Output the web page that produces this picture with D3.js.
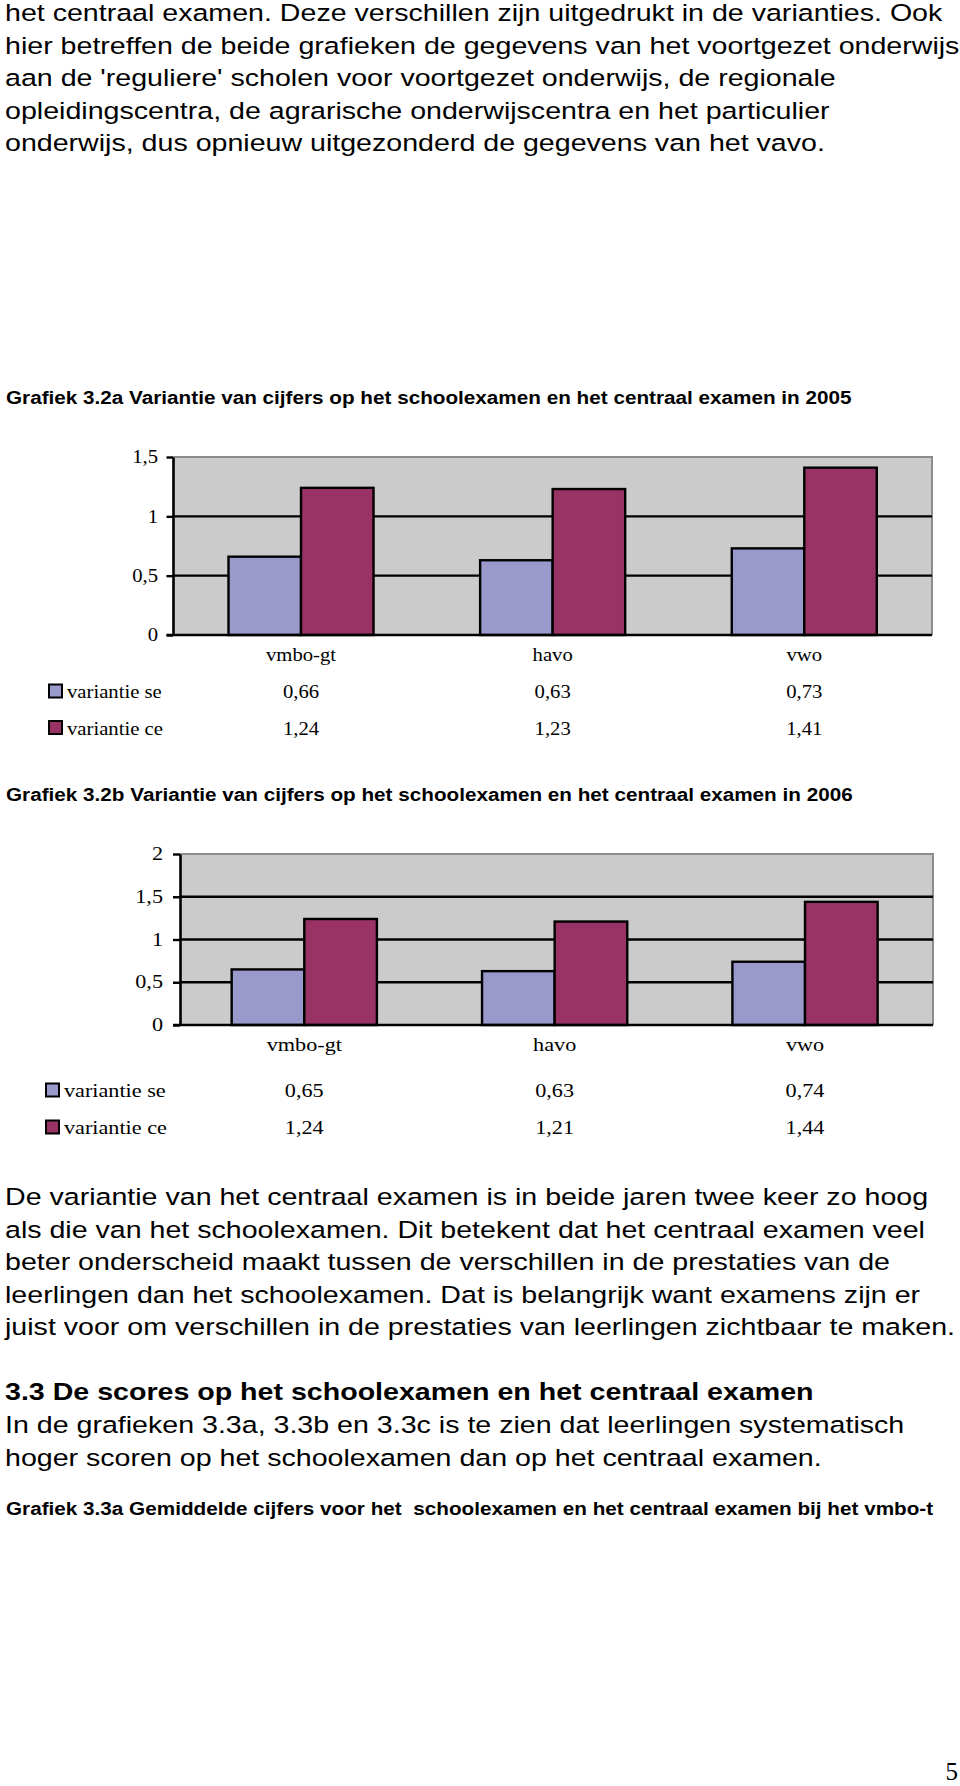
<!DOCTYPE html>
<html><head><meta charset="utf-8">
<script src="https://cdn.jsdelivr.net/npm/d3@7"></script>
<style>body{margin:0;background:#fff} svg{display:block} text{white-space:pre}</style>
</head><body>
<script>
// ---------- data ----------
const categories = ["vmbo-gt", "havo", "vwo"];
const seriesNames = ["variantie se", "variantie ce"];
const seriesKeys = ["se", "ce"];
const se2005 = [0.66, 0.63, 0.73];
const ce2005 = [1.24, 1.23, 1.41];
const se2006 = [0.65, 0.63, 0.74];
const ce2006 = [1.24, 1.21, 1.44];
const ticks2005 = [0, 0.5, 1, 1.5];
const ticks2006 = [0, 0.5, 1, 1.5, 2];
const title2005 = "Grafiek 3.2a Variantie van cijfers op het schoolexamen en het centraal examen in 2005";
const title2006 = "Grafiek 3.2b Variantie van cijfers op het schoolexamen en het centraal examen in 2006";
const para1 = [
  "het centraal examen. Deze verschillen zijn uitgedrukt in de varianties. Ook",
  "hier betreffen de beide grafieken de gegevens van het voortgezet onderwijs",
  "aan de 'reguliere' scholen voor voortgezet onderwijs, de regionale",
  "opleidingscentra, de agrarische onderwijscentra en het particulier",
  "onderwijs, dus opnieuw uitgezonderd de gegevens van het vavo."
];
const para2 = [
  "De variantie van het centraal examen is in beide jaren twee keer zo hoog",
  "als die van het schoolexamen. Dit betekent dat het centraal examen veel",
  "beter onderscheid maakt tussen de verschillen in de prestaties van de",
  "leerlingen dan het schoolexamen. Dat is belangrijk want examens zijn er",
  "juist voor om verschillen in de prestaties van leerlingen zichtbaar te maken."
];
const heading33 = "3.3 De scores op het schoolexamen en het centraal examen";
const para3 = [
  "In de grafieken 3.3a, 3.3b en 3.3c is te zien dat leerlingen systematisch",
  "hoger scoren op het schoolexamen dan op het centraal examen."
];
const title33a = "Grafiek 3.3a Gemiddelde cijfers voor het  schoolexamen en het centraal examen bij het vmbo-t";
const pageNumber = "5";

// ---------- setup ----------
const W = 960, H = 1786;
const SANS = "'Liberation Sans', Arial, Helvetica, sans-serif";
const SERIF = "'Liberation Serif', 'Times New Roman', serif";
const colors = {se: "#9999cc", ce: "#993366"};
const fmt = v => String(v).replace(".", ",");
const fmt2 = v => v.toFixed(2).replace(".", ",");

const svg = d3.select("body").append("svg").attr("width", W).attr("height", H);
svg.append("rect").attr("width", W).attr("height", H).attr("fill", "#fff");

function measure(str, size, family, weight) {
  const t = svg.append("text").attr("font-size", size).attr("font-family", family)
    .attr("font-weight", weight).text(str);
  const w = t.node().getComputedTextLength();
  t.remove();
  return w;
}
function addText(parent, str, o) {
  return parent.append("text")
    .attr("transform", `translate(${o.x},${o.y}) scale(${o.sx || 1},1)`)
    .attr("font-size", o.size).attr("font-family", o.family)
    .attr("font-weight", o.weight || "normal")
    .attr("text-anchor", o.anchor || "start")
    .attr("fill", "#000").text(str);
}

const BODY = 23.5;
const sxBody = 938 / measure(para1[0], BODY, SANS, "normal");
const TITLE = 18.5;
const sxTitle = 846 / measure(title2005, TITLE, SANS, "bold");

// ---------- body text ----------
const tg = svg.append("g");
const p1Base = [21, 53.5, 86, 118.5, 151];
para1.forEach((s, i) => addText(tg, s, {x: 5, y: p1Base[i], size: BODY, family: SANS, sx: sxBody}));
addText(tg, title2005, {x: 6, y: 404, size: TITLE, family: SANS, weight: "bold", sx: sxTitle});
addText(tg, title2006, {x: 6, y: 801, size: TITLE, family: SANS, weight: "bold", sx: sxTitle});
const p2Base = [1205, 1237.5, 1270, 1302.5, 1335];
para2.forEach((s, i) => addText(tg, s, {x: 5, y: p2Base[i], size: BODY, family: SANS, sx: sxBody}));
addText(tg, heading33, {x: 5, y: 1400, size: BODY, family: SANS, weight: "bold", sx: sxBody});
const p3Base = [1433, 1465.5];
para3.forEach((s, i) => addText(tg, s, {x: 5, y: p3Base[i], size: BODY, family: SANS, sx: sxBody}));
addText(tg, title33a, {x: 6, y: 1515, size: 18.5, family: SANS, weight: "bold", sx: sxTitle});
addText(tg, pageNumber, {x: 958, y: 1780, size: 25, family: SERIF, anchor: "end"});

// ---------- charts ----------
function drawChart(cfg) {
  const g = svg.append("g");
  const data = categories.map((c, i) => ({cat: c, se: cfg.se[i], ce: cfg.ce[i]}));
  const x0 = d3.scaleBand().domain(categories).range(cfg.bandRange).padding(0);
  const x1 = d3.scaleBand().domain(seriesKeys).range([0, x0.bandwidth()])
    .paddingInner(0).paddingOuter(cfg.innerPad);
  const y = d3.scaleLinear().domain([0, d3.max(cfg.ticks)]).range([cfg.bottom, cfg.top]);
  const L = cfg.left, R = cfg.right;

  // plot background
  g.append("rect").attr("x", L).attr("y", y(d3.max(cfg.ticks)))
    .attr("width", R - L).attr("height", y(0) - y(d3.max(cfg.ticks)))
    .attr("fill", "#cbcbcb");
  // top and right gray border
  g.append("path").attr("d", `M${L},${y(d3.max(cfg.ticks))}H${R}V${y(0)}`)
    .attr("fill", "none").attr("stroke", "#8c8c8c").attr("stroke-width", 2);
  // gridlines
  g.selectAll("line.grid").data(cfg.ticks.filter(t => t > 0 && t < d3.max(cfg.ticks)))
    .join("line").attr("class", "grid")
    .attr("x1", L).attr("x2", R).attr("y1", d => y(d)).attr("y2", d => y(d))
    .attr("stroke", "#000").attr("stroke-width", 2.4);
  // bars
  const grp = g.selectAll("g.grp").data(data).join("g")
    .attr("transform", d => `translate(${x0(d.cat)},0)`);
  grp.selectAll("rect").data(d => seriesKeys.map(k => ({k, v: d[k]}))).join("rect")
    .attr("x", d => x1(d.k)).attr("width", x1.bandwidth())
    .attr("y", d => y(d.v)).attr("height", d => y(0) - y(d.v))
    .attr("fill", d => colors[d.k]).attr("stroke", "#000").attr("stroke-width", 2.4);
  // y axis
  const ax = g.append("g").attr("transform", `translate(${L},0)`)
    .call(d3.axisLeft(y).tickValues(cfg.ticks).tickSize(cfg.tickLen).tickSizeOuter(0).tickFormat(""));
  ax.select(".domain").attr("stroke", "#000").attr("stroke-width", 2.6);
  ax.selectAll(".tick line").attr("stroke", "#000").attr("stroke-width", 2.4);
  cfg.ticks.forEach(t => addText(g, fmt(t), {x: cfg.labelRight, y: y(t) + cfg.fs * 0.33,
    size: cfg.fs, family: SERIF, anchor: "end", sx: cfg.sx}));
  // x axis baseline
  g.append("line").attr("x1", L - cfg.tickLen).attr("x2", R).attr("y1", y(0)).attr("y2", y(0))
    .attr("stroke", "#000").attr("stroke-width", 2.6);
  // category labels
  categories.forEach(c => addText(g, c, {x: x0(c) + x0.bandwidth() / 2, y: cfg.catY,
    size: cfg.fs, family: SERIF, anchor: "middle", sx: cfg.sx}));
  // data table with legend
  const rows = [{k: "se", name: seriesNames[0], vals: cfg.se, yb: cfg.rowY[0]},
                {k: "ce", name: seriesNames[1], vals: cfg.ce, yb: cfg.rowY[1]}];
  rows.forEach(r => {
    g.append("rect").attr("x", cfg.legX).attr("y", r.yb - cfg.sq - 0.5)
      .attr("width", cfg.sq).attr("height", cfg.sq)
      .attr("fill", colors[r.k]).attr("stroke", "#000").attr("stroke-width", 2);
    addText(g, r.name, {x: cfg.legX + cfg.sq + 5, y: r.yb, size: cfg.fs, family: SERIF, sx: cfg.sx});
    categories.forEach((c, i) => addText(g, fmt2(r.vals[i]), {x: x0(c) + x0.bandwidth() / 2,
      y: r.yb, size: cfg.fs, family: SERIF, anchor: "middle", sx: cfg.sx}));
  });
}

drawChart({se: se2005, ce: ce2005, ticks: ticks2005,
  left: 173, right: 932, top: 457, bottom: 635, bandRange: [175.2, 930.1], innerPad: 0.735,
  tickLen: 6.5, labelRight: 158, fs: 19, sx: 1.09, catY: 661, rowY: [698, 734.5],
  legX: 49, sq: 13});
drawChart({se: se2006, ce: ce2006, ticks: ticks2006,
  left: 180, right: 933, top: 854, bottom: 1025, bandRange: [179.1, 930.2], innerPad: 0.724,
  tickLen: 7, labelRight: 163, fs: 18.5, sx: 1.2, catY: 1051, rowY: [1097, 1134],
  legX: 46, sq: 13});
</script>
</body></html>
